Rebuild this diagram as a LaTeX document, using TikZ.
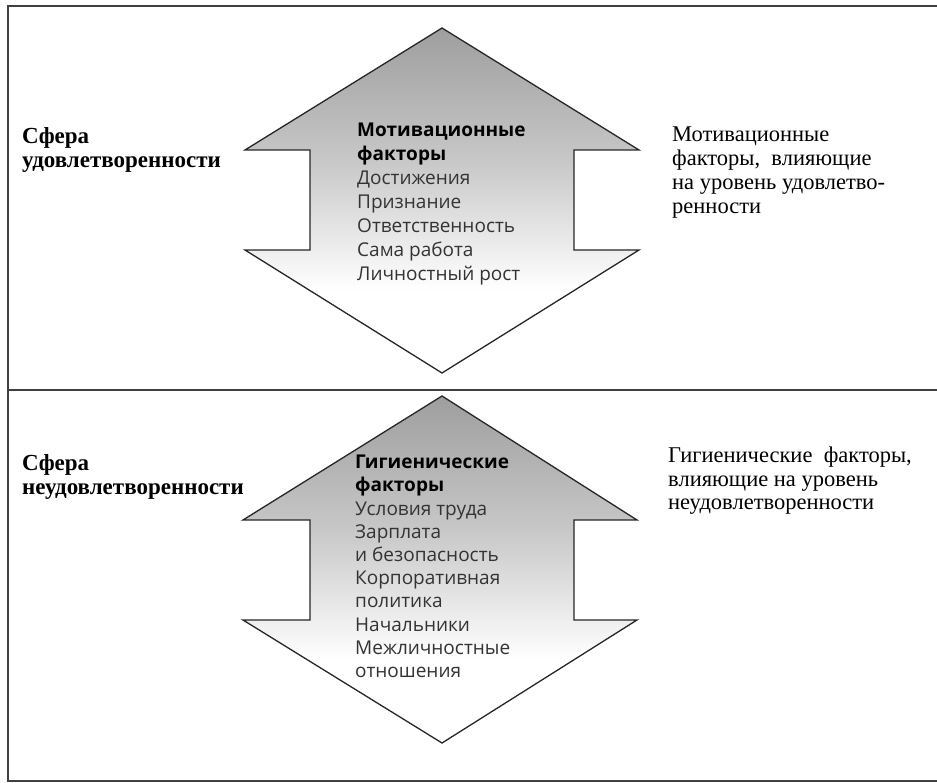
\documentclass[tikz,border=0pt]{standalone}
\usepackage{fontspec}
\setmainfont{Liberation Serif}
\newfontfamily\arrowfont{Open Sans}
\pgfdeclareverticalshading{fade}{100bp}{color(0bp)=(white); color(37bp)=(white); color(56bp)=(black!22); color(75bp)=(black!38); color(100bp)=(black!38)}
\tikzset{
  frameline/.style={draw=black!75, line width=1.4pt},
  arrowshape/.style={draw=black!85, line width=1.3pt, shading=fade, line join=miter},
  sphere/.style={anchor=north west, inner sep=0pt, align=left, font=\fontsize{23}{24}\selectfont\bfseries},
  sidetext/.style={anchor=north west, inner sep=0pt, align=left, font=\fontsize{22.5}{24}\selectfont},
  itemlist/.style={anchor=north west, inner sep=0pt, align=left, text=black!80, font=\arrowfont\fontsize{19}{24}\selectfont}
}
\begin{document}
\begin{tikzpicture}[x=1pt, y=-1pt]
\useasboundingbox (0,0) rectangle (937,783);

% Define coordinates of the frame
\coordinate (F1) at (8,6);
\coordinate (F2) at (937,6);
\coordinate (F3) at (8,390);
\coordinate (F4) at (937,390);
\coordinate (F5) at (8,781);
\coordinate (F6) at (937,781);

% Draw the frame
\draw[frameline] (F2) -- (F1) -- (F5) -- (F6);
\draw[frameline] (F3) -- (F4); % divider

% Define coordinates of the upper arrow
\coordinate (T1) at (442,28);
\coordinate (L1) at (245,150);
\coordinate (R1) at (639,150);
\coordinate (SL1) at (310,150);
\coordinate (SR1) at (574,150);
\coordinate (SL1') at (310,250);
\coordinate (SR1') at (574,250);
\coordinate (L1') at (245,250);
\coordinate (R1') at (639,250);
\coordinate (B1) at (442,373);

% Define coordinates of the lower arrow
\coordinate (T2) at (442,396);
\coordinate (L2) at (243,520);
\coordinate (R2) at (637,520);
\coordinate (SL2) at (310,520);
\coordinate (SR2) at (574,520);
\coordinate (SL2') at (310,620);
\coordinate (SR2') at (574,620);
\coordinate (L2') at (243,620);
\coordinate (R2') at (637,620);
\coordinate (B2) at (442,743);

% Draw the arrows
\draw[arrowshape] (T1) -- (R1) -- (SR1) -- (SR1') -- (R1') -- (B1) -- (L1') -- (SL1') -- (SL1) -- (L1) -- cycle;
\draw[arrowshape] (T2) -- (R2) -- (SR2) -- (SR2') -- (R2') -- (B2) -- (L2') -- (SL2') -- (SL2) -- (L2) -- cycle;

% Add labels
\node[sphere] (sat) at (22,127) {Сфера\\удовлетворенности};
\node[sphere] (dissat) at (22,454) {Сфера\\неудовлетворенности};

\node[itemlist] (motiv) at (357,122.5) {\textbf{\color{black}Мотивационные}\\\textbf{\color{black}факторы}\\Достижения\\Признание\\Ответственность\\Сама работа\\Личностный рост};
\node[itemlist, font=\arrowfont\fontsize{19}{23.2}\selectfont] (hyg) at (355,455) {\textbf{\color{black}Гигиенические}\\\textbf{\color{black}факторы}\\Условия труда\\Зарплата\\и безопасность\\Корпоративная\\политика\\Начальники\\Межличностные\\отношения};

\node[sidetext] (motivnote) at (672,127) {Мотивационные\\факторы, \ влияющие\\на уровень удовлетво-\\ренности};
\node[sidetext, font=\fontsize{22.5}{23.5}\selectfont] (hygnote) at (668,447) {Гигиенические \ факторы,\\влияющие на уровень\\неудовлетворенности};

\end{tikzpicture}
\end{document}
